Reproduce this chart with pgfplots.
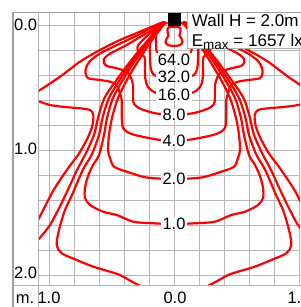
\documentclass[border=0pt]{standalone}
\usepackage{pgfplots}
\pgfplotsset{compat=1.18}
\usepackage{fontspec}
\setmainfont{Liberation Sans}
\newcommand{\lbl}{\fontsize{16.5}{18}\selectfont}
\newcommand{\lgd}{\fontsize{17}{20}\selectfont}
\pgfplotsset{cont/.style={red, line width=2.2pt, smooth, tension=0.5, no markers, line join=round, line cap=round}}
\begin{document}
\begin{tikzpicture}
\begin{axis}[
  width=262pt, height=272.5pt, scale only axis,
  xmin=-1.088, xmax=1.008, ymin=-0.1, ymax=2.08,
  y dir=reverse,
  axis line style={draw=none},
  xtick={-1,-0.8,-0.6,-0.4,-0.2,0,0.2,0.4,0.6,0.8,1},
  ytick={0,0.2,0.4,0.6,0.8,1,1.2,1.4,1.6,1.8,2},
  xticklabels={}, yticklabels={},
  major tick length=0pt,
  grid=major,
  grid style={black!28, line width=0.8pt},
  clip mode=individual,
]
% outer lobe upper edges
\addplot[cont] coordinates {(-0.08,-0.024) (-0.112,-0.0136) (-0.272,0.0536) (-0.432,0.12) (-0.592,0.2) (-0.752,0.2936) (-0.912,0.4136) (-1.096,0.536) (-1.168,0.576)};
\addplot[cont] coordinates {(0.08,-0.024) (0.112,-0.0136) (0.272,0.0536) (0.432,0.12) (0.592,0.2) (0.752,0.2936) (0.912,0.4136) (1.096,0.536) (1.168,0.576)};
% outer lobe lower edges and outer legs
\addplot[cont] coordinates {(-1.168,0.584) (-1.096,0.6056) (-0.992,0.64) (-0.872,0.656) (-0.752,0.6664) (-0.672,0.68) (-0.6456,0.72) (-0.652,0.8) (-0.68,0.88) (-0.72,0.96) (-0.768,1.04) (-0.84,1.136) (-0.912,1.24) (-0.968,1.328) (-1.016,1.42) (-1.088,1.56) (-1.152,1.656)};
\addplot[cont] coordinates {(1.168,0.584) (1.096,0.6056) (0.992,0.64) (0.872,0.656) (0.752,0.6664) (0.672,0.68) (0.6456,0.72) (0.652,0.8) (0.68,0.88) (0.72,0.96) (0.768,1.04) (0.84,1.136) (0.912,1.24) (0.968,1.328) (1.016,1.42) (1.088,1.56) (1.152,1.656)};
% second legs
\addplot[cont] coordinates {(-0.088,-0.016) (-0.208,0.12) (-0.328,0.264) (-0.448,0.424) (-0.556,0.584) (-0.608,0.744) (-0.64,0.88) (-0.712,1.04) (-0.776,1.16) (-0.84,1.3) (-0.912,1.45) (-0.992,1.6) (-1.088,1.72) (-1.168,1.8)};
\addplot[cont] coordinates {(0.088,-0.016) (0.208,0.12) (0.328,0.264) (0.448,0.424) (0.556,0.584) (0.608,0.744) (0.64,0.88) (0.712,1.04) (0.776,1.16) (0.84,1.3) (0.912,1.45) (0.992,1.6) (1.088,1.72) (1.168,1.8)};
% 0.5
\addplot[cont] coordinates {(-0.08,-0.016) (-0.2,0.12) (-0.312,0.264) (-0.424,0.424) (-0.52,0.584) (-0.572,0.744) (-0.6,0.88) (-0.66,1.04) (-0.73,1.16) (-0.816,1.36) (-0.872,1.48) (-0.92,1.64) (-0.9384,1.76) (-0.8984,1.8264) (-0.7784,1.88) (-0.6456,1.9336) (-0.512,1.9736) (-0.432,2.0) (-0.312,2.0664) (-0.192,2.12) (0,2.152) (0.192,2.12) (0.312,2.0664) (0.432,2.0) (0.512,1.9736) (0.6456,1.9336) (0.7784,1.88) (0.8984,1.8264) (0.9384,1.76) (0.92,1.64) (0.872,1.48) (0.816,1.36) (0.73,1.16) (0.66,1.04) (0.6,0.88) (0.572,0.744) (0.52,0.584) (0.424,0.424) (0.312,0.264) (0.2,0.12) (0.08,-0.016)};
% 1.0
\addplot[cont] coordinates {(-0.08,-0.016) (-0.192,0.12) (-0.296,0.264) (-0.4,0.424) (-0.488,0.584) (-0.536,0.744) (-0.56,0.88) (-0.6,1.04) (-0.648,1.12) (-0.688,1.208) (-0.712,1.304) (-0.712,1.384) (-0.672,1.44) (-0.568,1.4936) (-0.4584,1.52) (-0.3256,1.5736) (-0.1656,1.5864) (0,1.592) (0.1656,1.5864) (0.3256,1.5736) (0.4584,1.52) (0.568,1.4936) (0.672,1.44) (0.712,1.384) (0.712,1.304) (0.688,1.208) (0.648,1.12) (0.6,1.04) (0.56,0.88) (0.536,0.744) (0.488,0.584) (0.4,0.424) (0.296,0.264) (0.192,0.12) (0.08,-0.016)};
% 2.0
\addplot[cont] coordinates {(-0.072,-0.016) (-0.176,0.12) (-0.272,0.264) (-0.368,0.424) (-0.448,0.584) (-0.496,0.744) (-0.52,0.88) (-0.528,1.0) (-0.512,1.064) (-0.48,1.1336) (-0.3784,1.1736) (-0.2184,1.22) (0,1.232) (0.2184,1.22) (0.3784,1.1736) (0.48,1.1336) (0.512,1.064) (0.528,1.0) (0.52,0.88) (0.496,0.744) (0.448,0.584) (0.368,0.424) (0.272,0.264) (0.176,0.12) (0.072,-0.016)};
% 4.0
\addplot[cont] coordinates {(-0.072,-0.02) (-0.192,0.028) (-0.296,0.084) (-0.456,0.16) (-0.592,0.228) (-0.672,0.288) (-0.704,0.344) (-0.708,0.3864) (-0.6856,0.4264) (-0.592,0.44) (-0.512,0.4536) (-0.4584,0.48) (-0.436,0.536) (-0.4184,0.6) (-0.4184,0.72) (-0.4056,0.8264) (-0.3256,0.8764) (-0.112,0.92) (0,0.928) (0.112,0.92) (0.3256,0.8764) (0.4056,0.8264) (0.4184,0.72) (0.4184,0.6) (0.436,0.536) (0.4584,0.48) (0.512,0.4536) (0.592,0.44) (0.6856,0.4264) (0.708,0.3864) (0.704,0.344) (0.672,0.288) (0.592,0.228) (0.456,0.16) (0.296,0.084) (0.192,0.028) (0.072,-0.02)};
% 8.0
\addplot[cont] coordinates {(-0.072,-0.02) (-0.176,0.04) (-0.272,0.096) (-0.3784,0.16) (-0.472,0.208) (-0.528,0.24) (-0.56,0.272) (-0.56,0.304) (-0.536,0.328) (-0.4584,0.3464) (-0.3784,0.3736) (-0.348,0.416) (-0.328,0.48) (-0.3256,0.6136) (-0.304,0.648) (-0.264,0.672) (-0.152,0.706) (0,0.72) (0.152,0.706) (0.264,0.672) (0.304,0.648) (0.3256,0.6136) (0.328,0.48) (0.348,0.416) (0.3784,0.3736) (0.4584,0.3464) (0.536,0.328) (0.56,0.304) (0.56,0.272) (0.528,0.24) (0.472,0.208) (0.3784,0.16) (0.272,0.096) (0.176,0.04) (0.072,-0.02)};
% 16.0
\addplot[cont] coordinates {(-0.072,-0.02) (-0.152,0.032) (-0.224,0.096) (-0.272,0.144) (-0.292,0.176) (-0.288,0.208) (-0.264,0.236) (-0.236,0.256) (-0.232,0.32) (-0.2304,0.424) (-0.208,0.496) (-0.144,0.542) (0,0.556) (0.144,0.542) (0.208,0.496) (0.2304,0.424) (0.232,0.32) (0.236,0.256) (0.264,0.236) (0.288,0.208) (0.292,0.176) (0.272,0.144) (0.224,0.096) (0.152,0.032) (0.072,-0.02)};
% 32.0
\addplot[cont] coordinates {(-0.064,-0.016) (-0.128,0.012) (-0.172,0.064) (-0.192,0.16) (-0.192,0.28) (-0.184,0.355) (-0.16,0.4) (-0.096,0.414) (0,0.416) (0.096,0.414) (0.16,0.4) (0.184,0.355) (0.192,0.28) (0.192,0.16) (0.172,0.064) (0.128,0.012) (0.064,-0.016)};
% 64.0
\addplot[cont] coordinates {(-0.056,-0.016) (-0.104,0) (-0.132,0.032) (-0.144,0.08) (-0.144,0.16) (-0.136,0.222) (-0.112,0.258) (-0.064,0.274) (0,0.276) (0.064,0.274) (0.112,0.258) (0.136,0.222) (0.144,0.16) (0.144,0.08) (0.132,0.032) (0.104,0) (0.056,-0.016)};
% innermost closed contour
\addplot[cont] coordinates {(0,0.014) (0.036,0.014) (0.052,0.03) (0.05,0.06) (0.044,0.085) (0.06,0.11) (0.068,0.135) (0.05,0.16) (0,0.168) (-0.05,0.16) (-0.068,0.135) (-0.06,0.11) (-0.044,0.085) (-0.05,0.06) (-0.052,0.03) (-0.036,0.014) (0,0.014)};
% contour labels
\foreach \yy/\tt in {0.276/64.0, 0.416/32.0, 0.556/16.0, 0.72/8.0, 0.928/4.0, 1.232/2.0, 1.592/1.0}{
  \edef\temp{\noexpand\node[fill=white, inner xsep=1.5pt, inner ysep=0.5pt, font=\noexpand\lbl, text=black] at (axis cs:0,\yy) {\tt};}
  \temp
}
% legend box
\filldraw[fill=white, draw=black!30, line width=0.8pt] (axis cs:0.1096,-0.1) rectangle (axis cs:1.2,0.1864);
\node[anchor=base west, inner sep=0, font=\lgd] at (axis cs:0.1416,0.0136) {Wall H = 2.0m};
\node[anchor=base west, inner sep=0, font=\lgd] at (axis cs:0.1416,0.1736) {E\raisebox{-2.5pt}{\fontsize{13.5}{14}\selectfont max} = 1657 lx};
% luminaire
\addplot[black, only marks, mark=square*, mark size=5.8pt, mark options={fill=black, draw=black, line width=0.2pt}] coordinates {(0,-0.048)};
% frame
\draw[black!30, line width=1pt] (axis cs:-1.088,-0.1) -- (axis cs:-1.088,2.3);
\draw[black!30, line width=1pt] (axis cs:-1.2856,2.08) -- (axis cs:1.2,2.08);
\draw[black!38, line width=1.8pt] (axis cs:-1.2856,2.3) -- (axis cs:-1.2856,-0.1) -- (axis cs:1.2,-0.1);
% axis labels
\node[anchor=west, inner sep=0, font=\lbl] at (axis cs:-1.28,0) {0.0};
\node[anchor=west, inner sep=0, font=\lbl] at (axis cs:-1.28,0.992) {1.0};
\node[anchor=west, inner sep=0, font=\lbl] at (axis cs:-1.28,1.98) {2.0};
\node[anchor=base, inner sep=0, font=\lbl] at (axis cs:-1.192,2.2264) {m.};
\node[anchor=base, inner sep=0, font=\lbl] at (axis cs:-1.0,2.2264) {1.0};
\node[anchor=base, inner sep=0, font=\lbl] at (axis cs:0.008,2.2264) {0.0};
\node[anchor=base, inner sep=0, font=\lbl] at (axis cs:1.0,2.2264) {1.0};
\coordinate (bbA) at (axis cs:-1.392,2.256);
\coordinate (bbB) at (axis cs:1.008,-0.2);
\end{axis}
\pgfresetboundingbox
\path[use as bounding box] (bbA) rectangle (bbB);
\end{tikzpicture}
\end{document}
